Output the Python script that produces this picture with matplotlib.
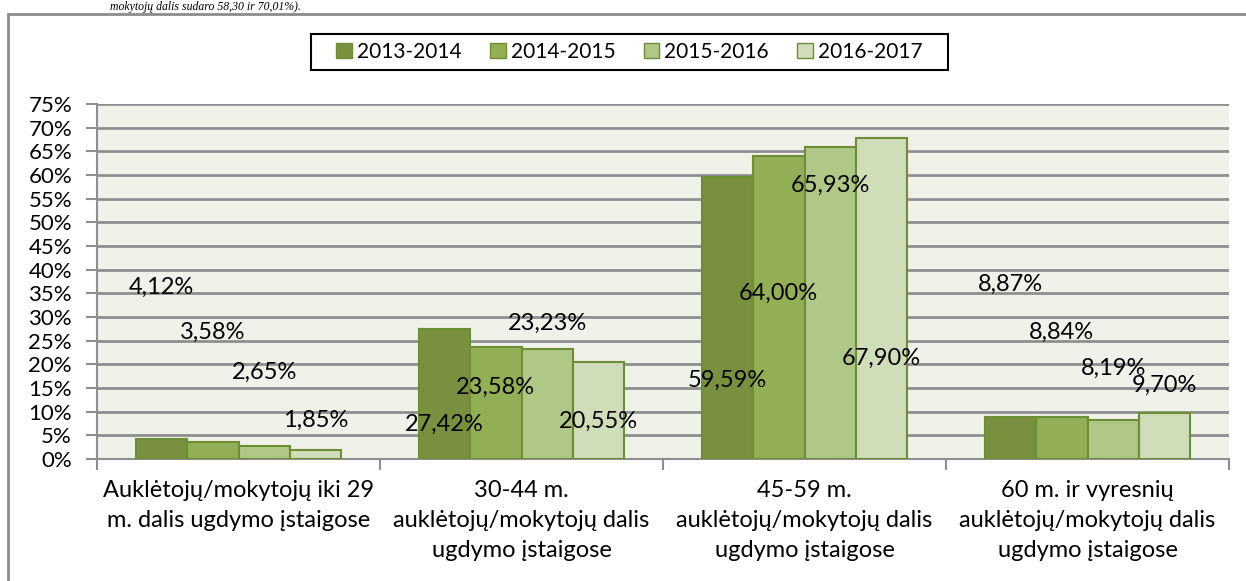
import matplotlib
matplotlib.use("Agg")
import matplotlib.pyplot as plt
import matplotlib.patches as mpatches
import numpy as np

categories = [
    "Auklėtojų/mokytojų iki 29\nm. dalis ugdymo įstaigose",
    "30-44 m.\nauklėtojų/mokytojų dalis\nugdymo įstaigose",
    "45-59 m.\nauklėtojų/mokytojų dalis\nugdymo įstaigose",
    "60 m. ir vyresnių\nauklėtojų/mokytojų dalis\nugdymo įstaigose",
]
series_names = ["2013-2014", "2014-2015", "2015-2016", "2016-2017"]
values = {
    "2013-2014": [4.12, 27.42, 59.59, 8.87],
    "2014-2015": [3.58, 23.58, 64.00, 8.84],
    "2015-2016": [2.65, 23.23, 65.93, 8.19],
    "2016-2017": [1.85, 20.55, 67.90, 9.70],
}
# heights (in % units) where the value labels sit in the original chart
label_heights = {
    "2013-2014": [36.3, 7.4, 16.7, 37.0],
    "2014-2015": [26.8, 15.2, 34.9, 26.8],
    "2015-2016": [18.4, 28.7, 57.9, 19.2],
    "2016-2017": [8.2, 8.0, 21.3, 15.6],
}
yticks = list(range(0, 80, 5))
caption = "mokytojų dalis sudaro 58,30 ir 70,01%)."

colors = ["#79913F", "#93AF55", "#AFC787", "#CFDDB9"]
edge = "#6E8E36"
grid_c = "#8F8F8F"
font = "Lato"
fs = 16

W, H = 1246, 581
fig = plt.figure(figsize=(W/100, H/100), dpi=100)
ax = fig.add_axes([97/W, 1-459/H, (1229-97)/W, (459-104)/H])
ax.set_facecolor("#EFF2E8")

n = len(series_names)
w = 1/5.5
x = np.arange(len(categories))
for j, s in enumerate(series_names):
    xs = x + (j - (n-1)/2) * w
    ax.bar(xs, values[s], width=w, color=colors[j], edgecolor=edge, linewidth=1.5, zorder=3)
    for xi, v, ly in zip(xs, values[s], label_heights[s]):
        ax.text(xi, ly, f"{v:.2f}%".replace(".", ","), ha="center", va="center",
                fontsize=17, family=font, color="black", zorder=5)

ax.set_xlim(-0.5, len(categories)-0.5)
ax.set_ylim(0, 75)
ax.set_yticks(yticks)
ax.set_yticklabels([f"{t}%" for t in yticks], family=font, fontsize=fs)
ax.yaxis.grid(True, color=grid_c, linewidth=2, zorder=0)
ax.set_axisbelow(True)
ax.tick_params(axis="y", length=8, width=1.5, color=grid_c, pad=10)

ax.set_xticks(np.arange(len(categories)+1) - 0.5, minor=False)
ax.set_xticklabels([])
ax.tick_params(axis="x", length=8, width=1.5, color=grid_c)
for i, c in enumerate(categories):
    ax.text(i, -0.058, c, transform=ax.get_xaxis_transform(), ha="center", va="top",
            fontsize=17, family=font, linespacing=1.55)

for sp in ["top", "right"]:
    ax.spines[sp].set_visible(False)
for sp in ["left", "bottom"]:
    ax.spines[sp].set_color(grid_c)
    ax.spines[sp].set_linewidth(1.5)

handles = [mpatches.Patch(facecolor=colors[j], edgecolor=edge, label=s) for j, s in enumerate(series_names)]
leg = fig.legend(handles=handles, loc="center", bbox_to_anchor=((311+948)/2/W, 1-52/H),
                 ncol=4, frameon=False, prop={"family": font, "size": 15},
                 handlelength=0.75, handleheight=0.75, handletextpad=0.25, columnspacing=1.35,
                 borderpad=0.35)
box = mpatches.Rectangle((311/W, 1-70/H), (948-311)/W, 36/H, transform=fig.transFigure,
                         fill=False, edgecolor="black", linewidth=1.5)
fig.patches.append(box)

frame = mpatches.Rectangle((8/W, -0.05), 1.1, (H-14)/H + 0.05, transform=fig.transFigure,
                           fill=False, edgecolor="#8C8C8C", linewidth=2, clip_on=False)
fig.patches.append(frame)

fig.text(110/W, 1-1/H, caption, ha="left", va="top",
         fontsize=8.5, family="Liberation Serif", style="italic")

fig.savefig("out.png", dpi=100)
